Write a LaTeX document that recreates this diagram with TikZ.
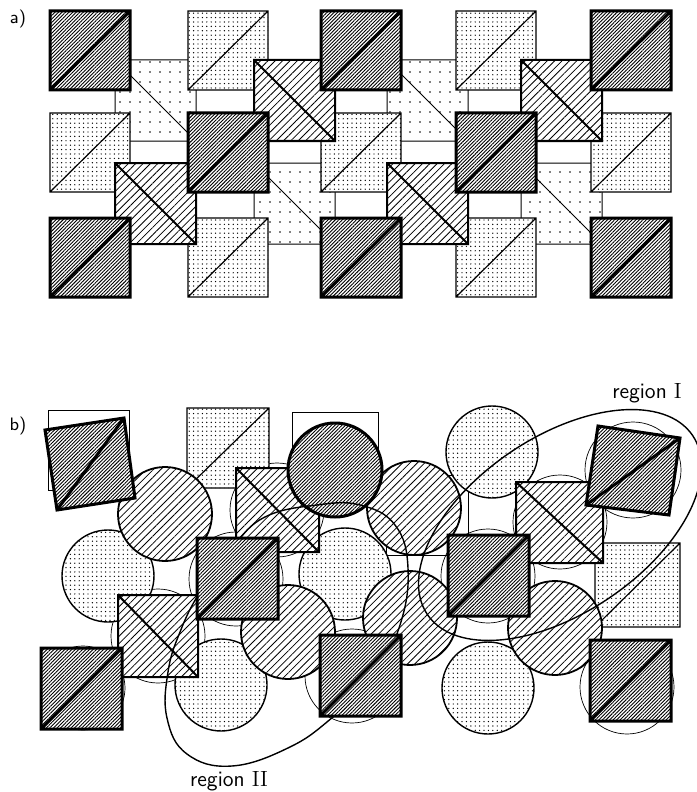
\documentclass[tikz,border=0pt]{standalone}
\usepackage{tikz}
\usetikzlibrary{patterns.meta}

\begin{document}
\begin{tikzpicture}[x=0.5pt,y=-0.5pt,
  darktile/.style={line width=1.5pt,preaction={fill=white},
    pattern={Lines[angle=45,distance=1.25pt,line width=0.45pt]}},
  hatchtile/.style={line width=1pt,preaction={fill=white},
    pattern={Lines[angle=45,distance=2.6pt,line width=0.4pt]}},
  dottile/.style={line width=0.6pt,preaction={fill=white},
    pattern={Dots[distance=2.2pt,radius=0.35pt]}},
  sparsetile/.style={line width=0.5pt,preaction={fill=white},
    pattern={Dots[distance=5pt,radius=0.4pt]}},
  ghost/.style={line width=0.35pt},
  regionline/.style={line width=0.7pt},
  captext/.style={font=\sffamily\fontsize{9}{11}\selectfont,inner sep=0pt},
  regtext/.style={font=\sffamily\fontsize{11}{13}\selectfont,inner sep=0pt}]
  \useasboundingbox (0,0) rectangle (696,792);

  % a) ordered lattice
  \node[captext] (tagA) at (18,19) {a)};
  \foreach \x/\y in {115/60,387/60,254/163,521/163}
    {\draw[sparsetile] (\x,\y) rectangle ++(81,81) (\x,\y) -- ++(81,81);}
  \foreach \x/\y in {188/11,456/11,50/113,321/113,591/113,188/218,456/218}
    {\draw[dottile] (\x,\y) rectangle ++(80,79) (\x,\y+79) -- ++(80,-79);}
  \foreach \x/\y in {254/60,521/60,115/163,387/163}
    {\draw[hatchtile] (\x,\y) rectangle ++(81,81) (\x,\y) -- ++(81,81);}
  \foreach \x/\y in {50/11,321/11,591/11,188/113,456/113,50/218,321/218,591/218}
    {\draw[darktile] (\x,\y) rectangle ++(80,79) (\x,\y+79) -- ++(80,-79);}

  % b) disordered lattice
  \node[captext] (tagB) at (18,426) {b)};
  \draw[ghost] (48,410) rectangle (129,490);
  \draw[ghost] (292,412) rectangle (378,493);
  \draw[ghost] (386,475) rectangle (468,555);
  \foreach \cx/\cy/\r in {277/510/47,236/579/47,158/636/47,83/688/42,352/676/47,
                          488/576/47,633/470/48,627/687/47,560/522/47}
    {\draw[ghost] (\cx,\cy) circle (\r);}
  \draw[dottile] (187,408) rectangle (269,488) (187,488) -- (269,408);
  \draw[dottile] (595,543) rectangle (680,627) (595,627) -- (680,543);
  \foreach \cx/\cy in {108/576,492/452,345/574,221/685,488/688}
    {\draw[dottile,line width=0.7pt] (\cx,\cy) circle (46);}
  \foreach \cx/\cy in {165/514,414/508,288/632,410/618,555/628}
    {\draw[hatchtile,line width=0.9pt] (\cx,\cy) circle (47);}
  \draw[hatchtile] (236,468) rectangle (319,552) (236,468) -- (319,552);
  \draw[hatchtile] (118,595) rectangle (198,677) (118,595) -- (198,677);
  \draw[hatchtile] (516,482) rectangle (603,563) (516,482) -- (603,563);
  \draw[darktile] (335,470) circle (47);

  % regions
  \draw[regionline,rotate around={34:(560,525)}] (560,525) ellipse [x radius=160,y radius=88];
  \draw[regionline] plot[smooth cycle,tension=0.7] coordinates {(333,717) (290,747) (232,766)
    (187,754) (167,718) (168,672) (180,632) (200,592) (232,548) (265,517) (317,505)
    (360,505) (395,525) (408,568) (400,625) (372,680)};
  \node[regtext] (regI) at (647,393) {region \textrm{I}};
  \node[regtext] (regII) at (229,781) {region \textrm{II}};

  % dark tiles on top
  \draw[darktile] (45,430) -- (124,418) -- (135,498) -- (57,510) -- cycle (57,510) -- (124,418);
  \draw[darktile] (598,426) -- (680,438) -- (669,515) -- (586,505) -- cycle (586,505) -- (680,438);
  \foreach \x/\y in {197/538,41/648,320/635,448/535,590/640}
    {\draw[darktile] (\x,\y) rectangle ++(81,81) (\x,\y+81) -- ++(81,-81);}
\end{tikzpicture}
\end{document}
